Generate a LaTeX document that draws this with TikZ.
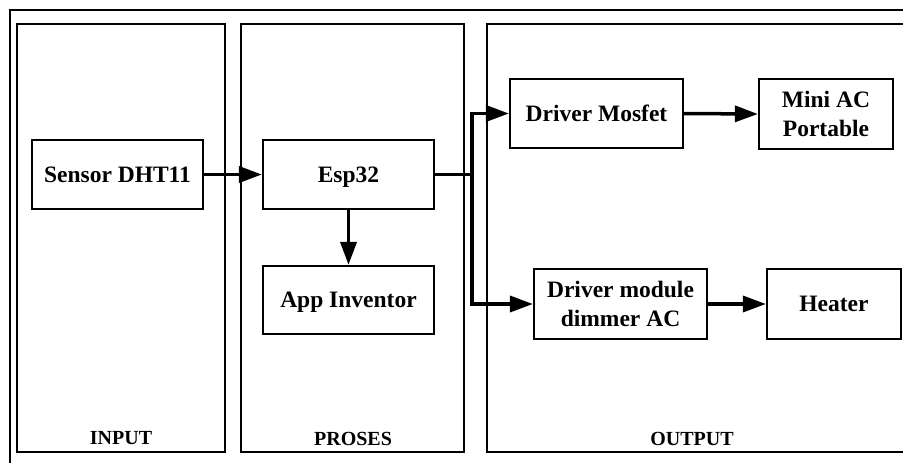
\documentclass[tikz,border=0pt]{standalone}
\usepackage{fontspec}
\setmainfont{Liberation Serif}
\usetikzlibrary{arrows.meta}
\tikzset{
  blk/.style={draw, line width=2.2pt, minimum width=171pt, minimum height=69pt, inner sep=2pt, align=center, font=\fontsize{23.5}{28.5}\selectfont\bfseries},
  grp/.style={draw, line width=2pt},
  grplabel/.style={font=\fontsize{20}{24}\selectfont\bfseries},
  arr/.style={line width=3.5pt, -{Triangle[length=23pt,width=16pt]}},
  wire/.style={line width=3.5pt},
}
\begin{document}
\begin{tikzpicture}[x=1pt,y=-1pt]
\useasboundingbox (0,0) rectangle (903,463);
\clip (0,0) rectangle (903,463);
% outer frame
\draw[line width=2pt] (10,480) -- (10,10) -- (920,10);
% group boxes
\draw[grp] (17,24) rectangle (225,452);
\draw[grp] (241,24) rectangle (464,452);
\draw[grp] (487,24) rectangle (920,452);
\node[grplabel] (lin) at (121,438.5) {INPUT};
\node[grplabel] (lpr) at (353,438.5) {PROSES};
\node[grplabel] (lout) at (692,438.5) {OUTPUT};
% blocks
\node[blk] (sensor) at (117.5,174.5) {Sensor DHT11};
\node[blk, text depth=0pt] (esp) at (348.5,174.5) {Esp32};
\node[blk, text depth=0pt, minimum height=68pt] (app) at (348.5,300) {App Inventor};
\node[blk, minimum width=173pt] (mosfet) at (596.5,113.5) {Driver Mosfet};
\node[blk, minimum width=134pt, minimum height=70pt] (miniac) at (826,114) {Mini AC\\Portable};
\node[blk, minimum width=173pt, minimum height=70pt] (dimmer) at (620.5,304) {Driver module\\dimmer AC};
\node[blk, minimum width=134pt, minimum height=70pt] (heater) at (834,304) {Heater};
% connectors
\coordinate (bus) at (472,174.5);
\draw[arr] (sensor.east) -- (esp.west);
\draw[arr] (esp.south) -- (app.north);
\draw[wire] (esp.east) -- (bus);
\draw[arr] (bus) |- (mosfet.west);
\draw[arr] (bus) |- (dimmer.west);
\draw[arr] (mosfet.east) -- (miniac.west);
\draw[arr] (dimmer.east) -- (heater.west);
\end{tikzpicture}
\end{document}
